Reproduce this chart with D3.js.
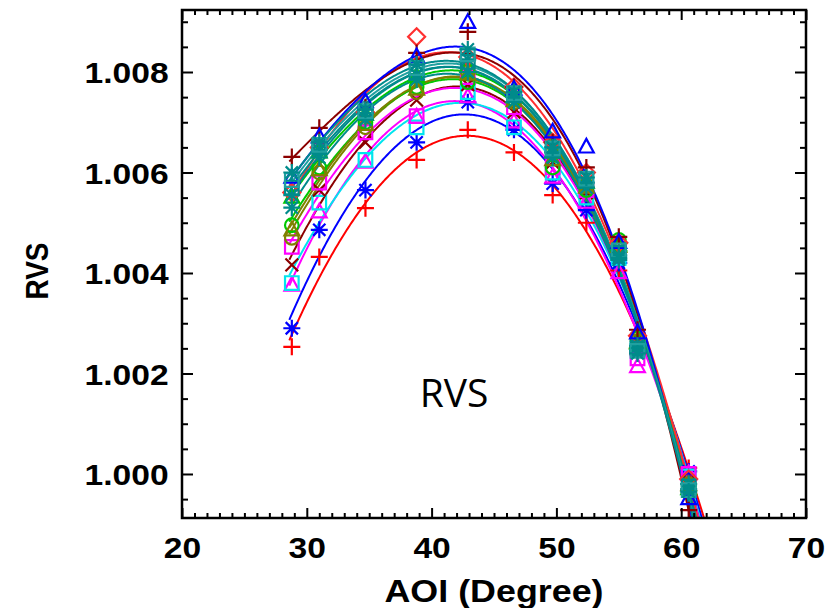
<!DOCTYPE html>
<html><head><meta charset="utf-8">
<script src="https://cdn.jsdelivr.net/npm/d3@7"></script>
<style>body{margin:0;background:#fff}svg{display:block}</style>
</head><body><svg id="c" width="828" height="608"></svg>
<script>
// ---- data ----
const aoi = [28.8, 31.0, 34.7, 38.8, 42.9, 46.6, 49.7, 52.4, 55.0, 56.5, 60.6];
const seriesColors = ["#ff0000","#0000ff","#ff00ff","#00e5ee","#8b0000","#ff00ff","#808000","#00c800","#008b8b","#00c800","#008b8b","#008b8b","#8b0000","#0000ff","#ff3030","#008b8b","#20a0a0","#808000"];
const seriesMarkers = ["plus","star","triangle","square","x","square","circle","circle","star","triangle","square","star","plus","triangle","diamond","star","square","triangle"];
const s01 = [1.00253,1.00432,1.00529,1.00625,1.00685,1.00640,1.00555,1.00500,1.00405,1.00240,1.00012];
const s02 = [1.00290,1.00486,1.00565,1.00660,1.00740,1.00685,1.00578,1.00525,1.00420,1.00250,1.00005];
const s03 = [1.00375,1.00521,1.00620,1.00710,1.00750,1.00700,1.00590,1.00540,1.00400,1.00213,1.00000];
const s04 = [1.00380,1.00540,1.00625,1.00690,1.00760,1.00690,1.00600,1.00550,1.00430,1.00260,0.99995];
const s05 = [1.00416,1.00565,1.00660,1.00744,1.00775,1.00720,1.00620,1.00560,1.00440,1.00270,0.99985];
const s06 = [1.00452,1.00580,1.00680,1.00712,1.00790,1.00730,1.00610,1.00565,1.00446,1.00230,1.00000];
const s07 = [1.00470,1.00600,1.00690,1.00760,1.00800,1.00740,1.00640,1.00575,1.00450,1.00265,0.99980];
const s08 = [1.00495,1.00610,1.00700,1.00770,1.00780,1.00745,1.00610,1.00565,1.00466,1.00270,0.99975];
const s09 = [1.00530,1.00630,1.00705,1.00785,1.00800,1.00740,1.00630,1.00570,1.00426,1.00245,0.99980];
const s10 = [1.00550,1.00640,1.00715,1.00790,1.00810,1.00750,1.00640,1.00580,1.00455,1.00260,0.99970];
const s11 = [1.00570,1.00650,1.00720,1.00800,1.00820,1.00755,1.00645,1.00585,1.00440,1.00250,0.99975];
const s12 = [1.00600,1.00660,1.00725,1.00815,1.00845,1.00760,1.00650,1.00590,1.00430,1.00240,0.99965];
const s13 = [1.00631,1.00689,1.00730,1.00838,1.00880,1.00770,1.00660,1.00610,1.00472,1.00287,0.99928];
const s14 = [1.00590,1.00670,1.00740,1.00830,1.00898,1.00765,1.00680,1.00650,1.00460,1.00280,0.99950];
const s15 = [1.00560,1.00650,1.00720,1.00870,1.00830,1.00770,1.00660,1.00600,1.00460,1.00275,0.99990];
const s16 = [1.00555,1.00645,1.00718,1.00795,1.00825,1.00750,1.00640,1.00580,1.00435,1.00255,0.99970];
const s17 = [1.00585,1.00655,1.00722,1.00808,1.00835,1.00758,1.00648,1.00588,1.00445,1.00245,0.99968];
const s18 = [1.00485,1.00605,1.00695,1.00765,1.00795,1.00742,1.00625,1.00570,1.00452,1.00262,0.99978];
const seriesValues = [s01,s02,s03,s04,s05,s06,s07,s08,s09,s10,s11,s12,s13,s14,s15,s16,s17,s18];
const drawOrder = [0,1,2,3,4,5,6,7,17,9,14,12,13,8,15,10,16,11];
const xTicks = [20,30,40,50,60,70];
const yTicks = [1.000,1.002,1.004,1.006,1.008];
const xLabel = "AOI (Degree)", yLabel = "RVS", centerLabel = "RVS";

// ---- layout ----
const svg = d3.select("#c");
const L = 182, R = 806, T = 10, B = 518;
const x = d3.scaleLinear().domain([20,70]).range([L,R]);
const y = d3.scaleLinear().domain([0.999124,1.009234]).range([B,T]);

svg.append("defs").append("clipPath").attr("id","pc")
  .append("rect").attr("x",L).attr("y",T).attr("width",R-L).attr("height",B-T);

// cubic least squares fit of each series
function polyfit(xs, ys, deg){
  const n = deg+1, A = Array.from({length:n},()=>new Array(n).fill(0)), b = new Array(n).fill(0);
  xs.forEach((xv,k)=>{
    const t=(xv-45)/15, p=[]; for(let i=0;i<n;i++) p.push(Math.pow(t,i));
    for(let i=0;i<n;i++){ b[i]+=p[i]*(ys[k]-1); for(let j=0;j<n;j++) A[i][j]+=p[i]*p[j]; }
  });
  for(let i=0;i<n;i++){
    let m=i; for(let r=i+1;r<n;r++) if(Math.abs(A[r][i])>Math.abs(A[m][i])) m=r;
    [A[i],A[m]]=[A[m],A[i]]; [b[i],b[m]]=[b[m],b[i]];
    for(let r=i+1;r<n;r++){ const f=A[r][i]/A[i][i]; for(let c=i;c<n;c++) A[r][c]-=f*A[i][c]; b[r]-=f*b[i]; }
  }
  const c=new Array(n).fill(0);
  for(let i=n-1;i>=0;i--){ let s=b[i]; for(let j=i+1;j<n;j++) s-=A[i][j]*c[j]; c[i]=s/A[i][i]; }
  return xv=>{ const t=(xv-45)/15; let s=0; for(let i=0;i<n;i++) s+=c[i]*Math.pow(t,i); return 1+s; };
}

const curveG = svg.append("g").attr("clip-path","url(#pc)");
const line = d3.line().x(d=>x(d[0])).y(d=>y(d[1])).curve(d3.curveLinear);
const xsFine = d3.range(28.6, 63.0, 0.1);
drawOrder.forEach(i=>{
  const f = polyfit(aoi, seriesValues[i], 3);
  curveG.append("path").datum(xsFine.map(xv=>[xv,f(xv)]))
    .attr("d",line).attr("fill","none").attr("stroke",seriesColors[i]).attr("stroke-width",2);
});

// markers
function markerPath(type, s){
  switch(type){
    case "plus": return `M${-s},0H${s}M0,${-s}V${s}`;
    case "x": { const a=s*0.75; return `M${-a},${-a}L${a},${a}M${-a},${a}L${a},${-a}`; }
    case "star": { const a=s*0.72; return `M${-s},0H${s}M0,${-s}V${s}M${-a},${-a}L${a},${a}M${-a},${a}L${a},${-a}`; }
    case "square": { const a=s*0.8; return `M${-a},${-a}H${a}V${a}H${-a}Z`; }
    case "diamond": return `M0,${-s}L${s},0L0,${s}L${-s},0Z`;
    case "triangle": return `M0,${-s}L${s*0.87},${s*0.6}L${-s*0.87},${s*0.6}Z`;
    case "circle": { const a=s*0.8; return `M${a},0A${a},${a} 0 1,1 ${-a},0A${a},${a} 0 1,1 ${a},0Z`; }
  }
}
const markG = svg.append("g");
drawOrder.forEach(i=>{
  markG.append("g").selectAll("path").data(seriesValues[i].map((v,k)=>[aoi[k],v])).join("path")
    .attr("transform",d=>`translate(${x(d[0])},${y(d[1])})`)
    .attr("d",markerPath(seriesMarkers[i], 8.5))
    .attr("fill","none").attr("stroke",seriesColors[i]).attr("stroke-width",2.2);
});

// axes
const xMinor = d3.range(21,70,1).filter(v=>v%10!==0);
const yMinor = d3.range(0,20).map(k=>+(0.9995+k*0.0005).toFixed(4)).filter(v=>v<1.0092 && Math.round(v*10000)%20!==0);
function styleAxis(g){ g.select(".domain").remove(); g.selectAll("line").attr("stroke","#000").attr("stroke-width",2); }
svg.append("g").attr("transform",`translate(0,${B})`).call(d3.axisBottom(x).tickValues(xMinor).tickSize(-5).tickFormat("")).call(styleAxis);
svg.append("g").attr("transform",`translate(0,${T})`).call(d3.axisTop(x).tickValues(xMinor).tickSize(-5).tickFormat("")).call(styleAxis);
svg.append("g").attr("transform",`translate(0,${T})`).call(d3.axisTop(x).tickValues(xTicks).tickSize(-10).tickFormat("")).call(styleAxis);
const xAx = svg.append("g").attr("transform",`translate(0,${B})`).call(d3.axisBottom(x).tickValues(xTicks).tickSize(-10).tickPadding(40).tickFormat(d3.format("d"))).call(styleAxis);
svg.append("g").attr("transform",`translate(${L},0)`).call(d3.axisLeft(y).tickValues(yMinor).tickSize(-6).tickFormat("")).call(styleAxis);
svg.append("g").attr("transform",`translate(${R},0)`).call(d3.axisRight(y).tickValues(yMinor).tickSize(-6).tickFormat("")).call(styleAxis);
svg.append("g").attr("transform",`translate(${R},0)`).call(d3.axisRight(y).tickValues(yTicks).tickSize(-11).tickFormat("")).call(styleAxis);
const yAx = svg.append("g").attr("transform",`translate(${L},0)`).call(d3.axisLeft(y).tickValues(yTicks).tickSize(-11).tickPadding(12).tickFormat(d3.format(".3f"))).call(styleAxis);

[xAx,yAx].forEach(g=>g.selectAll("text")
  .attr("font-family","'Liberation Sans', Arial, sans-serif").attr("font-weight","bold")
  .attr("font-size",30).attr("fill","#000"));
xAx.selectAll("text").attr("dy","0").attr("transform","scale(1.12,1)");
yAx.selectAll("text").attr("dy","0.36em").attr("transform","scale(1.12,1)");

svg.append("rect").attr("x",L).attr("y",T).attr("width",R-L).attr("height",B-T)
  .attr("fill","none").attr("stroke","#000").attr("stroke-width",2.5);

svg.append("text").attr("transform",`translate(${(L+R)/2},602) scale(1.12,1)`)
  .attr("text-anchor","middle").attr("font-family","'Liberation Sans', Arial, sans-serif")
  .attr("font-weight","bold").attr("font-size",32).text(xLabel);
svg.append("text").attr("transform",`translate(48,271) scale(1.15,1) rotate(-90)`)
  .attr("text-anchor","middle").attr("font-family","'Liberation Sans', Arial, sans-serif")
  .attr("font-weight","bold").attr("font-size",28).text(yLabel);
svg.append("text").attr("x",454).attr("y",407)
  .attr("text-anchor","middle").attr("font-family","'Open Sans', 'Liberation Sans', sans-serif")
  .attr("font-size",39).text(centerLabel);
</script></body></html>
